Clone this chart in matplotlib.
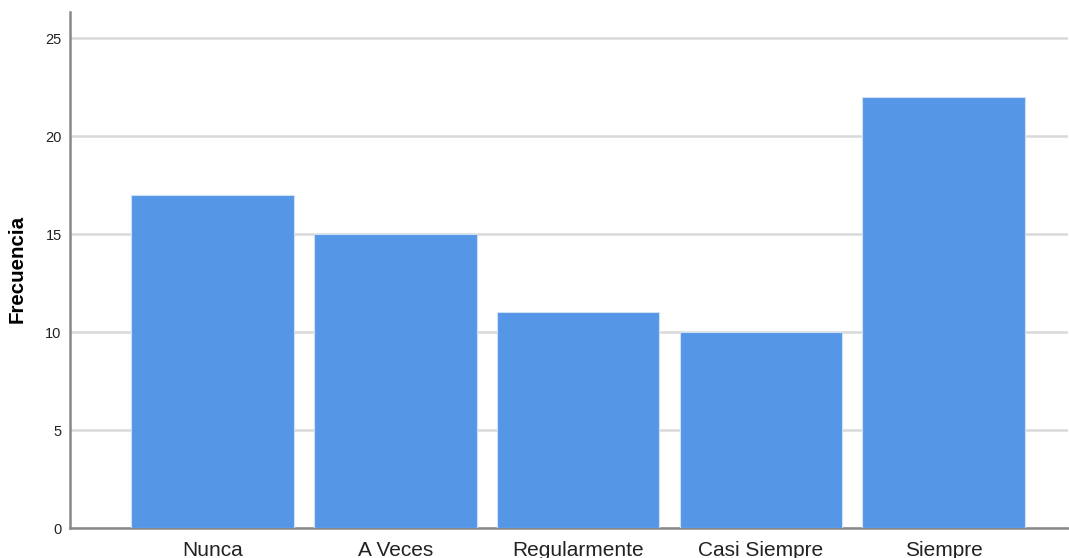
import matplotlib.pyplot as plt

categories = ["Nunca", "A Veces", "Regularmente", "Casi Siempre", "Siempre"]
values = [17, 15, 11, 10, 22]
yticks = [0, 5, 10, 15, 20, 25]

plt.rcParams['font.family'] = ['Liberation Sans', 'DejaVu Sans']

fig = plt.figure(figsize=(10.69, 5.58), dpi=100)
ax = fig.add_axes([70/1069, 1-528/558, (1068-70)/1069, (528-12)/558])

x = list(range(len(categories)))
ax.bar(x, values, width=0.89, color='#5596E6', edgecolor='#cfe0f5', linewidth=0.8, zorder=3)

ax.set_xlim(-0.779, 4.68)
ax.set_ylim(0, 26.33)
ax.set_yticks(yticks)
ax.set_xticks(x)
ax.set_xticklabels(categories, fontsize=15, color='#222222')
ax.tick_params(axis='y', length=0, labelsize=10.5, pad=6, colors='#222222')
ax.tick_params(axis='x', length=0, pad=9)
ax.yaxis.grid(True, color='#d9d9d9', linewidth=1.8, zorder=0)
ax.set_axisbelow(True)
for s in ['top', 'right']:
    ax.spines[s].set_visible(False)
for s in ['left', 'bottom']:
    ax.spines[s].set_color('#888888')
    ax.spines[s].set_linewidth(1.8)
ax.set_ylabel("Frecuencia", fontsize=14.8, fontweight='bold')
ax.yaxis.set_label_coords((27-70)/998, (528-269)/516)

fig.savefig("out.png", dpi=100)
